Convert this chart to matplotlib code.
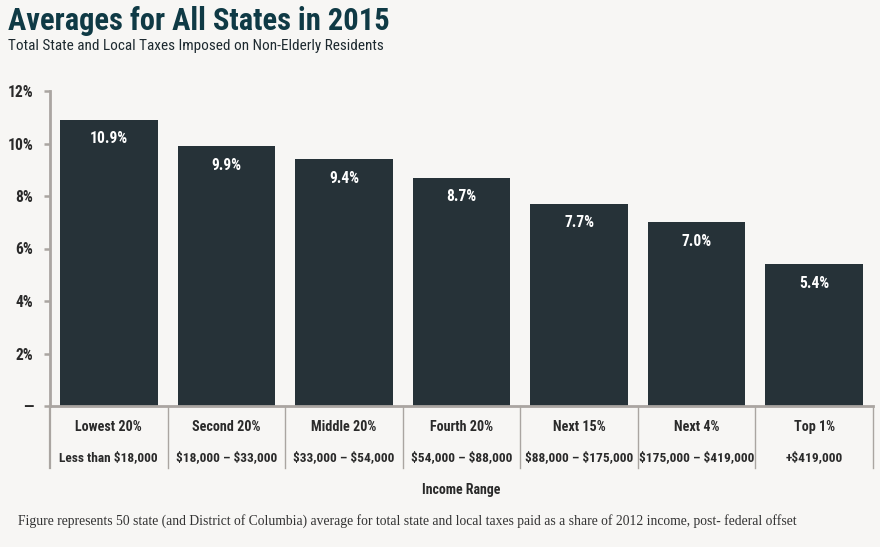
import matplotlib
matplotlib.use("Agg")
import matplotlib.pyplot as plt
import matplotlib.transforms as mtransforms

plt.rcParams['text.parse_math'] = False

categories = ["Lowest 20%", "Second 20%", "Middle 20%", "Fourth 20%", "Next 15%", "Next 4%", "Top 1%"]
ranges = ["Less than $18,000", "$18,000 – $33,000", "$33,000 – $54,000", "$54,000 – $88,000",
          "$88,000 – $175,000", "$175,000 – $419,000", "+$419,000"]
values = [10.9, 9.9, 9.4, 8.7, 7.7, 7.0, 5.4]
ytick_vals = [0, 2, 4, 6, 8, 10, 12]
ytick_labels = ["—", "2%", "4%", "6%", "8%", "10%", "12%"]

COND = ['Roboto Condensed', 'Roboto', 'DejaVu Sans']
BG = '#f7f6f4'
BAR = '#263238'
GRAY = '#aaa5a1'
TXT = '#2a2a2a'

fig = plt.figure(figsize=(8.8, 5.47), dpi=100, facecolor=BG)
ax = fig.add_axes([50/880, 1-406/547, (873-50)/880, (406-91)/547])
ax.set_facecolor(BG)

x = list(range(len(values)))
ax.bar(x, values, width=0.83, color=BAR, zorder=2)
for xi, v in zip(x, values):
    ax.text(xi, v - 0.72, f"{v:.1f}%", ha='center', va='center', color='white',
            fontsize=11.2, fontweight='bold', family=COND)

ax.set_xlim(-0.5, len(values) - 0.5)
ax.set_ylim(0, 12)
ax.set_yticks(ytick_vals)
ax.set_yticklabels(ytick_labels, family=COND, fontweight='bold', fontsize=11.2, color=TXT)
ax.tick_params(axis='y', length=4, width=1.8, color=GRAY, pad=8)
ax.set_xticks([])
for s in ['top', 'right']:
    ax.spines[s].set_visible(False)
ax.spines['left'].set_color(GRAY)
ax.spines['left'].set_linewidth(2)
ax.spines['bottom'].set_color(GRAY)
ax.spines['bottom'].set_linewidth(2)
ax.spines['left'].set_bounds(0, 12)

trans = mtransforms.blended_transform_factory(ax.transData, ax.transAxes)
for b in [i - 0.5 for i in range(len(values) + 1)]:
    lw = 1.6 if b == -0.5 else 1.0
    ax.plot([b, b], [0, -0.197], transform=trans, color=GRAY, lw=lw, clip_on=False)

for xi, c, r in zip(x, categories, ranges):
    ax.text(xi, -0.067, c, transform=trans, ha='center', va='center', fontsize=10.2,
            fontweight='bold', family=COND, color=TXT)
    ax.text(xi, -0.165, r, transform=trans, ha='center', va='center', fontsize=9.6,
            fontweight='bold', family=COND, color=TXT)

ax.text(0.5, -0.267, "Income Range", transform=ax.transAxes, ha='center', va='center',
        fontsize=10, fontweight='bold', family=COND, color=TXT)

fig.text(8/880, 1-21/547, "Averages for All States in 2015", ha='left', va='center',
         fontsize=22, fontweight='bold', family=COND, color='#0f3a45')
fig.text(8/880, 1-46/547, "Total State and Local Taxes Imposed on Non-Elderly Residents",
         ha='left', va='center', fontsize=11, family=COND, color='#1e2a30')
fig.text(18/880, 1-521/547,
         "Figure represents 50 state (and District of Columbia) average for total state and local taxes paid as a share of 2012 income, post- federal offset",
         ha='left', va='center', fontsize=9.8, family=['Liberation Serif', 'DejaVu Serif'], color='#333333')

fig.savefig("out.png", dpi=100, facecolor=BG)
